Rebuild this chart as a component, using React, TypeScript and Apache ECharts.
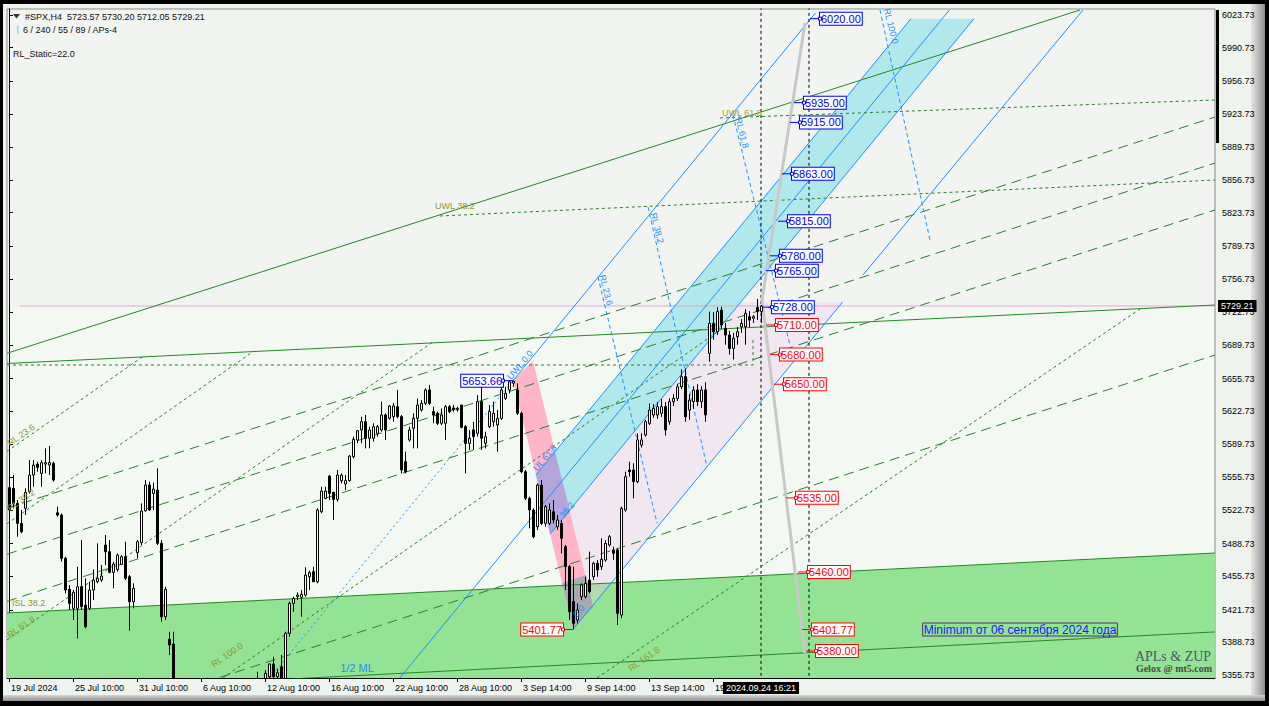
import React, { useEffect, useRef } from 'react';
import * as echarts from 'echarts';

const FONT = '"Liberation Sans", Arial, sans-serif';
const SERIF = '"Liberation Serif", "DejaVu Serif", serif';
const Y_MIN = 5352.69;
const Y_MAX = 6029.8;
const SLOTS = 302;

// price-scale tick labels (right axis)
const yTickLabels = ['5355.73','5388.73','5421.73','5455.73','5488.73','5522.73','5555.73','5589.73','5622.73','5655.73','5689.73','5722.73','5756.73','5789.73','5823.73','5856.73','5889.73','5923.73','5956.73','5990.73','6023.73'];

// time-scale tick labels (bar index -> text)
const xLabelIndex = [0, 16, 32, 48, 64, 80, 96, 112, 128, 144, 160, 176];
const xLabelText = ['19 Jul 2024','25 Jul 10:00','31 Jul 10:00','6 Aug 10:00','12 Aug 10:00','16 Aug 10:00','22 Aug 10:00','28 Aug 10:00','3 Sep 14:00','9 Sep 14:00','13 Sep 14:00','19 Sep 14:00'];

// H4 candles [open, high, low, close]
const candles = [
  [5545.3,5554.7,5515.9,5522.7],[5544.6,5558.1,5524.4,5529.4],[5529.4,5532.8,5495.7,5509.2],[5509.2,5522.7,5499.1,5500.8],
  [5524.4,5544.6,5517.6,5540.6],[5541.2,5573.3,5539.5,5558.1],[5558.1,5573.3,5546.3,5568.2],[5569.2,5571.6,5561.5,5565.9],
  [5559.8,5573.3,5546.3,5570.6],[5569.2,5585.1,5559.8,5570.6],[5568.2,5587.5,5558.1,5570.9],[5569.9,5571.6,5551.4,5553.0],
  [5520.0,5526.1,5515.9,5517.6],[5517.6,5519.3,5470.4,5473.8],[5473.8,5475.5,5438.3,5441.7],[5442.4,5446.8,5421.5,5428.2],
  [5423.2,5441.7,5411.4,5439.4],[5423.2,5465.3,5392.8,5445.1],[5445.1,5492.3,5421.5,5424.9],[5426.5,5453.5,5402.9,5404.6],
  [5423.2,5450.1,5421.5,5441.7],[5441.7,5462.6,5431.6,5451.8],[5450.1,5488.9,5448.5,5453.5],[5451.8,5467.0,5450.1,5455.9],
  [5487.3,5497.4,5467.0,5480.5],[5480.5,5492.3,5458.6,5459.6],[5459.6,5470.4,5443.4,5468.0],[5462.6,5478.8,5460.3,5477.1],
  [5467.7,5477.1,5467.0,5475.5],[5475.5,5490.6,5451.8,5453.5],[5455.2,5456.9,5400.6,5429.9],[5429.9,5448.5,5423.2,5443.4],
  [5479.5,5492.3,5473.8,5490.6],[5489.6,5529.4,5487.3,5521.7],[5522.0,5553.0,5521.0,5548.0],[5548.0,5551.4,5522.0,5522.7],
  [5539.5,5550.3,5522.7,5543.9],[5542.9,5564.9,5487.3,5489.0],[5489.0,5492.3,5409.7,5414.7],[5414.7,5445.1,5411.4,5442.4],
  [5391.8,5399.5,5375.9,5386.1],[5387.1,5399.5,5320.0,5330.0],[5330,5345,5300,5310],[5310,5325,5280,5290],
  [5290,5300,5250,5265],[5265,5280,5230,5245],[5245,5255,5190,5200],[5200,5215,5140,5150],
  [5150,5200,5120,5185],[5185,5215,5170,5190],[5190,5250,5185,5240],[5240,5270,5225,5255],
  [5255,5290,5240,5280],[5280,5300,5215,5225],[5225,5250,5200,5235],[5235,5275,5225,5265],
  [5265,5320,5260,5315],[5315,5335,5300,5325],[5325,5345,5310,5330],[5330,5345,5320,5338],
  [5338,5348,5325,5335],[5335,5350,5320,5340],[5340,5359.1,5330,5345],[5345,5352,5335,5348],
  [5348,5360.7,5340,5357.4],[5354.0,5367.5,5345,5366.8],[5366.8,5374.2,5345,5354.0],[5354,5362,5348,5358],
  [5364.1,5375.9,5338,5345],[5340,5399.5,5335,5397.9],[5397.9,5429.9,5394.5,5428.2],[5428.2,5435.0,5419.8,5433.3],
  [5435.0,5439.4,5431.6,5436.6],[5434.3,5441.7,5414.7,5437.3],[5436.6,5464.7,5435.0,5456.9],[5455.2,5461.3,5441.7,5459.3],
  [5460.3,5465.3,5450.1,5450.1],[5450.1,5524.4,5448.5,5522.7],[5521.0,5546.3,5519.3,5541.9],[5534.5,5546.3,5533.5,5541.9],
  [5557.1,5558.1,5532.8,5539.5],[5540.6,5541.2,5512.6,5533.5],[5533.5,5563.2,5531.1,5558.1],[5552.4,5559.8,5549.7,5558.1],
  [5549.0,5558.1,5542.9,5552.4],[5552.4,5578.3,5551.4,5577.3],[5576.7,5596.9,5575.0,5594.2],[5593.5,5603.7,5590.2,5603.0],
  [5603.7,5617.2,5590.2,5612.1],[5612.1,5618.9,5585.1,5595.3],[5595.3,5607.1,5585.1,5603.7],[5595.3,5610.5,5591.9,5607.1],
  [5600.3,5608.8,5597.0,5607.1],[5603.7,5632.4,5602.0,5618.9],[5618.9,5620.6,5593.6,5603.7],[5615.5,5629.0,5614.0,5628.0],
  [5617.2,5631.0,5612.0,5628.0],[5627.3,5644.2,5615.5,5617.2],[5617.2,5618.9,5559.8,5563.2],[5571.6,5581.8,5559.8,5561.5],
  [5593.6,5607.1,5591.9,5603.7],[5605.4,5620.6,5585.1,5615.5],[5615.5,5635.7,5585.1,5629.0],[5624.0,5634.0,5622.3,5630.7],
  [5630.7,5645.9,5629.0,5644.2],[5644.2,5649.3,5629.0,5630.7],[5622.3,5627.3,5610.5,5618.9],[5620.6,5622.3,5608.8,5610.5],
  [5610.5,5625.6,5608.8,5618.9],[5610.5,5629.0,5593.6,5627.3],[5627.3,5629.0,5620.6,5622.3],[5626.0,5629.0,5622.3,5624.3],
  [5624.3,5627.3,5622.3,5625.6],[5629.0,5629.0,5605.4,5606.4],[5607.1,5608.8,5559.8,5590.2],[5590.2,5603.7,5583.5,5595.3],
  [5603.7,5612.1,5583.5,5597.0],[5600.3,5639.1,5597.0,5632.4],[5632.4,5649.3,5583.5,5595.3],[5590.2,5602.0,5585.1,5597.0],
  [5607.1,5629.0,5605.4,5622.3],[5612.0,5632.4,5607.1,5620.5],[5608.8,5624.0,5581.8,5615.5],[5615.5,5650.0,5613.8,5644.2],
  [5635.7,5647.5,5634.0,5640.8],[5644.2,5653.0,5640.8,5652.6],[5651.0,5653.66,5647.5,5653.0],[5644.2,5650.9,5618.9,5620.6],
  [5620.6,5622.3,5559.8,5561.5],[5561.5,5563.2,5532.8,5534.5],[5534.5,5536.2,5504.2,5522.7],[5522.7,5524.4,5494.1,5495.7],
  [5505.8,5549.7,5502.5,5548.0],[5548.0,5553.1,5507.5,5509.2],[5509.2,5527.8,5505.8,5526.1],[5509.2,5529.5,5507.5,5522.7],
  [5521.0,5532.8,5509.2,5512.6],[5505.8,5517.6,5502.5,5512.6],[5509.2,5512.6,5478.9,5494.1],[5485.6,5487.3,5441.8,5465.4],
  [5465.4,5467.1,5411.4,5419.8],[5430.0,5465.4,5401.77,5408.0],[5411.4,5428.3,5408.0,5421.5],[5435.0,5448.5,5431.6,5446.8],
  [5435.0,5455.2,5433.3,5448.5],[5451.8,5480.6,5438.4,5440.1],[5455.2,5470.4,5451.9,5468.8],[5468.8,5472.1,5455.2,5462.0],
  [5465.4,5494.1,5462.0,5472.8],[5472.1,5492.4,5470.4,5489.0],[5487.3,5497.4,5485.6,5495.7],[5482.3,5485.6,5472.1,5478.9],
  [5482.3,5484.0,5406.4,5418.1],[5416.5,5526.1,5413.1,5524.4],[5522.7,5561.5,5521.0,5556.5],[5563.2,5571.6,5556.5,5561.5],
  [5563.2,5570.0,5534.5,5551.4],[5551.4,5600.3,5549.7,5593.6],[5588.5,5600.3,5586.0,5593.6],[5598.6,5614.0,5597.0,5612.1],
  [5610.4,5630.5,5608.8,5623.9],[5618.9,5630.0,5616.0,5625.6],[5618.9,5632.0,5615.0,5627.3],[5620.6,5635.0,5617.0,5627.3],
  [5627.3,5632.0,5598.0,5603.7],[5612.1,5636.0,5609.0,5632.4],[5632.4,5640.0,5628.0,5635.7],[5635.7,5650.0,5633.0,5647.5],
  [5647.5,5665.0,5645.0,5657.7],[5657.7,5666.0,5612.0,5617.2],[5623.9,5640.0,5614.0,5634.0],[5632.4,5648.0,5625.0,5644.2],
  [5644.2,5650.0,5628.0,5632.4],[5632.4,5648.0,5626.0,5644.2],[5644.2,5652.0,5612.0,5618.9],[5681.3,5723.5,5672.8,5711.6],
  [5711.6,5723.0,5695.0,5703.2],[5703.2,5728.0,5700.0,5723.5],[5725.1,5728.5,5706.0,5710.0],[5706.6,5712.0,5690.0,5699.8],
  [5699.8,5704.0,5680.0,5686.3],[5686.3,5702.0,5675.0,5696.5],[5698.1,5708.0,5690.0,5703.2],[5708.3,5716.0,5702.0,5711.6],
  [5708.3,5726.0,5690.0,5721.8],[5718.4,5724.0,5708.0,5715.0],[5716.7,5720.0,5712.0,5718.4],[5727.8,5736.3,5715.0,5723.5],
  [5723.57,5730.20,5712.05,5729.21],
];

const LAST_PRICE = 5729.21;
const LAST_TIME = '2024.09.24 16:21';

// price tags drawn on the projection (bar position, price)
const rightTagPrices = [6020.0, 5935.0, 5915.0, 5863.0, 5815.0, 5780.0, 5765.0, 5728.0, 5710.0, 5680.0, 5650.0, 5535.0, 5460.0, 5401.77, 5380.0];
const rightTagBars = [200.25, 196.25, 195.25, 193.25, 192.25, 190.25, 189.25, 188.25, 189.25, 190.25, 191.25, 194.25, 197.25, 198.25, 199.25];
const rightTagUp = [true, true, true, true, true, true, true, true, false, false, false, false, false, false, false];
const leftTagPrices = [5653.66, 5401.77];
const leftTagBars = [126, 141];
const leftTagUp = [true, false];

// drawn objects, in (bar index, price)
const greenSolid = [
  [[-0.5, 5681.3], [267.75, 6028.8]],
  [[-0.5, 5671.0], [301.5, 5730.2]],
  [[-0.5, 5418.5], [301.5, 5479.2]],
  [[60, 5349.6], [301.5, 5399.3]],
];
const greenDash = [
  [[-0.5, 5524.5], [301.5, 5920.5]],
  [[-0.5, 5478.0], [301.5, 5873.9]],
  [[-0.5, 5430.3], [301.5, 5826.4]],
  [[-0.5, 5283.5], [301.5, 5679.6]],
];
const greenDotted = [
  [[177.75, 5919.5], [301.5, 5937.7]],
  [[107.75, 5820.3], [301.5, 5856.7]],
  [[-0.5, 5669.5], [186, 5669.5], [186, 5694.8]],
  [[-0.5, 5582.1], [33.5, 5678.1]],
  [[-0.5, 5508.8], [61.25, 5683.7]],
  [[-0.5, 5391.2], [105.75, 5692.2]],
  [[53.5, 5352.7], [178.25, 5706.2]],
  [[147, 5352.7], [283.5, 5728.2]],
];
const blueSolid = [
  [[126, 5653.66], [201.6, 6025.7]],
  [[97.7, 5352.7], [235.1, 6028.8]],
  [[141, 5401.77], [208.4, 5733.2]],
  [[131.75, 5558.2], [225.5, 6020.0]],
  [[135.25, 5498.4], [241.25, 6020.0]],
  [[213.5, 5760.6], [268.5, 6028.8]],
];
const blueDotted = [
  [[65.25, 5352.7], [126, 5653.66]],
];
const blueDashed = [
  [[147.25, 5758.5], [162, 5509.6]],
  [[159.75, 5829.4], [174.5, 5566.2]],
  [[181, 5922.5], [195.25, 5689.7]],
  [[217.75, 6028.8], [230.25, 5796.0]],
];
const projection = [[199, 6015.6], [188.25, 5735.3], [199, 5378.0]];

const greenZone = [[-0.5, 5418.5], [301.5, 5479.2], [301.5, Y_MIN], [-0.5, Y_MIN]];
const topTint = [[-0.5, LAST_PRICE], [301.5, LAST_PRICE], [301.5, Y_MAX], [-0.5, Y_MAX]];
const forkTint = [[141, 5401.77], [208.4, 5733.2], [182.9, 5733.2], [135.25, 5498.4]];
const pinkStrip = [[126, 5654.3], [131, 5673.5], [146, 5424.6], [141, 5403.3]];
const cyanBand = [[131.75, 5558.2], [225.5, 6020.0], [241.25, 6020.0], [135.25, 5498.4]];
const overlapPurple = [[131.75, 5558.2], [136.5, 5581.4], [140.25, 5521.7], [135.25, 5498.4]];
const overlapGray = [[138.25, 5448.8], [144.25, 5456.9], [146, 5424.6], [141, 5403.3]];

const OLIVE = '#8f9a30';
const BLUE = '#1e90ff';
const annotations = [
  { x: 106.5, y: 5830.4, text: 'UWL 38.2', color: OLIVE, size: 9, align: 'left' },
  { x: 178.25, y: 5924.5, text: 'UWL 61.8', color: '#a3a322', size: 9, align: 'left' },
  { x: 0.75, y: 5428.6, text: 'ISL 38.2', color: OLIVE, size: 9, align: 'left' },
  { x: 3, y: 5598.6, text: 'RL 23.6', color: OLIVE, size: 9, rot: 35 },
  { x: 3, y: 5532.8, text: 'RL 38.2', color: OLIVE, size: 9, rot: 35 },
  { x: 3, y: 5404.3, text: 'RL 61.8', color: OLIVE, size: 9, rot: 35 },
  { x: 54.5, y: 5376.0, text: 'RL 100.0', color: OLIVE, size: 9, rot: 35 },
  { x: 158.75, y: 5371.9, text: 'RL 161.8', color: OLIVE, size: 9, rot: 35 },
  { x: 127.75, y: 5669.5, text: 'UWL 0.0', color: BLUE, size: 9, rot: 50 },
  { x: 87, y: 5362.8, text: '1/2 ML', color: BLUE, size: 11 },
  { x: 149.25, y: 5745.4, text: 'RL 23.6', color: BLUE, size: 9, rot: -76 },
  { x: 162, y: 5808.1, text: 'RL 38.2', color: BLUE, size: 9, rot: -76 },
  { x: 183.25, y: 5904.3, text: 'RL 61.8', color: BLUE, size: 9, rot: -76 },
  { x: 220.5, y: 6012.6, text: 'RL 100.0', color: BLUE, size: 9, rot: -76 },
  { x: 134, y: 5575.4, text: 'UL 61.8', color: BLUE, size: 9, rot: 50 },
  { x: 139.5, y: 5522.8, text: '38.2', color: BLUE, size: 9, rot: 50 },
  { x: 142.5, y: 5420.5, text: '0.0', color: BLUE, size: 9, rot: 50 },
  { x: 252.75, y: 5401.77, text: 'Minimum от 06 сентября 2024 года', color: '#1a1aff', size: 12, border: '#5a2a6a', pad: [1, 1, 0, 1] },
  { x: 188, y: Y_MIN, dy: 10, text: LAST_TIME, color: '#ffffff', size: 9, bg: '#000000', pad: [2, 3, 1, 3] },
  { x: 301.5, y: LAST_PRICE, dx: 3, text: LAST_PRICE.toFixed(2), color: '#ffffff', size: 9, bg: '#000000', align: 'left', pad: [2, 3, 1, 3] },
];

function lineSeries(pts: number[][], color: string, type: any, z: number, width = 1) {
  return {
    type: 'line', xAxisIndex: 1, yAxisIndex: 0, data: pts, symbol: 'none', silent: true, z,
    clip: true, animation: false, lineStyle: { color, width, type },
  };
}

function polySeries(pts: number[][], fill: string, z: number) {
  return {
    type: 'custom', xAxisIndex: 1, yAxisIndex: 0, silent: true, z, clip: true, animation: false,
    data: [pts[0]],
    renderItem: (_p: any, api: any) => ({
      type: 'polygon',
      shape: { points: pts.map((p) => api.coord(p)) },
      style: { fill },
    }),
  };
}

function buildOption() {
  const yVals = yTickLabels.map(Number);
  const labelMap = new Map<number, string>();
  xLabelIndex.forEach((ix, k) => labelMap.set(ix, xLabelText[k]));
  const cats = Array.from({ length: SLOTS }, (_, i) => String(i));
  const showIdx = (i: number) => labelMap.has(i);

  const tags = [
    ...rightTagPrices.map((p, k) => ({ x: rightTagBars[k], price: p, up: rightTagUp[k], side: 1 })),
    ...leftTagPrices.map((p, k) => ({ x: leftTagBars[k], price: p, up: leftTagUp[k], side: -1 })),
  ];

  const series: any[] = [
    polySeries(topTint, 'rgba(236,196,236,0.07)', 1),
    polySeries(greenZone, '#94e294', 1),
    polySeries(forkTint, 'rgba(238,200,238,0.35)', 1),
    polySeries(pinkStrip, '#ffb4c8', 1),
    polySeries(cyanBand, '#b0e8ec', 1),
    polySeries(overlapPurple, '#b4a6da', 1),
    polySeries(overlapGray, '#a9a9b3', 1),
    lineSeries([[2.75, LAST_PRICE], [301.5, LAST_PRICE]], '#e2a6d2', 'solid', 2),
    ...greenDash.map((l) => lineSeries(l, '#2a7f2a', [10, 6], 2)),
    ...greenDotted.map((l) => lineSeries(l, '#2a7f2a', [3, 3], 2)),
    ...greenSolid.map((l) => lineSeries(l, '#238a23', 'solid', 2)),
    ...blueSolid.map((l) => lineSeries(l, BLUE, 'solid', 2)),
    ...blueDotted.map((l) => lineSeries(l, BLUE, [2, 3], 2)),
    ...blueDashed.map((l) => lineSeries(l, BLUE, [4, 3], 2)),
    lineSeries([[188, Y_MIN - 10], [188, Y_MAX + 10]], '#000000', [3, 3], 3),
    lineSeries([[200, Y_MIN - 10], [200, Y_MAX + 10]], '#000000', [3, 3], 3),
    lineSeries(projection, '#c8c8c8', 'solid', 3, 3),
    {
      type: 'custom', xAxisIndex: 0, yAxisIndex: 0, z: 5, silent: true, clip: true, animation: false,
      data: candles.map((c, i) => [i, c[0], c[1], c[2], c[3]]),
      encode: { x: 0, y: [1, 2, 3, 4] },
      renderItem: (_params: any, api: any) => {
        const i = api.value(0);
        const o = api.value(1), h = api.value(2), l = api.value(3), c = api.value(4);
        const pO = api.coord([i, o]);
        const pC = api.coord([i, c]);
        const pH = api.coord([i, h]);
        const pL = api.coord([i, l]);
        const x = Math.round(pO[0]) + 0.5;
        const top = Math.min(pO[1], pC[1]);
        const bot = Math.max(pO[1], pC[1]);
        const bull = c >= o;
        return {
          type: 'group',
          children: [
            { type: 'line', shape: { x1: x, y1: pH[1], x2: x, y2: pL[1] }, style: { stroke: '#000000', lineWidth: 1 } },
            { type: 'rect', shape: { x: x - 1, y: top, width: 2, height: Math.max(bot - top, 0.6) }, style: { fill: bull ? '#ffffff' : '#000000', stroke: '#000000', lineWidth: 1 } },
          ],
        };
      },
    },
    {
      type: 'custom', xAxisIndex: 1, yAxisIndex: 0, silent: true, z: 8, clip: false, animation: false,
      data: tags.map((t) => [t.x, t.price]),
      renderItem: (params: any, api: any) => {
        const t = tags[params.dataIndex];
        const [px, py] = api.coord([t.x, t.price]);
        const col = t.up ? '#0000ff' : '#ff0000';
        const s = t.side;
        return {
          type: 'group',
          children: [
            { type: 'line', shape: { x1: px, y1: py, x2: px + s * 10, y2: py }, style: { stroke: col, lineWidth: 1 } },
            {
              type: 'text', x: px + s * 10, y: py,
              style: {
                text: t.price.toFixed(2), fill: col, font: `11px ${FONT}`,
                align: s > 0 ? 'left' : 'right', verticalAlign: 'middle',
                backgroundColor: '#ffffff', borderColor: col, borderWidth: 1, padding: [1, 1, 0, 1],
              },
            },
            { type: 'rect', shape: { x: px + s * 10 - 1.5, y: py - 1.5, width: 3, height: 3 }, style: { fill: '#ffffff', stroke: col, lineWidth: 1 } },
          ],
        };
      },
    },
    {
      type: 'custom', xAxisIndex: 1, yAxisIndex: 0, silent: true, z: 9, clip: false, animation: false,
      data: annotations.map((a) => [a.x, a.y]),
      renderItem: (params: any, api: any) => {
        const a: any = annotations[params.dataIndex];
        const [px, py] = api.coord([a.x, a.y]);
        const style: any = {
          text: a.text, fill: a.color, font: `${a.size}px ${FONT}`,
          align: a.align || 'center', verticalAlign: 'middle',
        };
        if (a.bg) style.backgroundColor = a.bg;
        if (a.border) { style.borderColor = a.border; style.borderWidth = 1; }
        if (a.pad) style.padding = a.pad;
        return {
          type: 'text', x: px + (a.dx || 0), y: py + (a.dy || 0),
          rotation: ((a.rot || 0) * Math.PI) / 180, style,
        };
      },
    },
    {
      type: 'custom', xAxisIndex: 1, yAxisIndex: 0, silent: true, z: 9, clip: false, animation: false,
      data: [[301.5, 6028.8]],
      renderItem: (_p: any, api: any) => {
        const a = api.coord([301.5, 6028.8]);
        const b = api.coord([301.5, 5894.2]);
        return { type: 'rect', shape: { x: a[0] + 1, y: a[1], width: 3, height: b[1] - a[1] }, style: { fill: '#000000' } };
      },
    },
  ];

  return {
    animation: false,
    backgroundColor: 'transparent',
    textStyle: { fontFamily: FONT },
    grid: { left: 7, right: 54, top: 9, bottom: 28, show: true, backgroundColor: '#f3f8f3', borderColor: '#8a8a8a', borderWidth: 1 },
    xAxis: [
      {
        type: 'category', data: cats, boundaryGap: true, gridIndex: 0,
        axisLine: { show: true, lineStyle: { color: '#000000', width: 1 } },
        axisTick: { show: true, alignWithLabel: true, interval: showIdx, length: 4, lineStyle: { color: '#000000' } },
        axisLabel: {
          interval: showIdx, formatter: (_v: any, i: number) => labelMap.get(i) || '',
          align: 'left', color: '#000000', fontSize: 9, fontFamily: FONT, margin: 5, padding: [0, 0, 0, 2],
        },
        splitLine: { show: false },
      },
      { type: 'value', gridIndex: 0, min: -0.5, max: SLOTS - 0.5, show: false },
    ],
    yAxis: [
      {
        type: 'value', position: 'right', min: Y_MIN, max: Y_MAX, scale: true,
        axisLine: { show: true, lineStyle: { color: '#000000', width: 1 } },
        axisTick: { show: true, length: 4, customValues: yVals, lineStyle: { color: '#000000' } },
        axisLabel: { customValues: yVals, formatter: (v: number) => v.toFixed(2), color: '#000000', fontSize: 9, fontFamily: FONT, margin: 7 },
        splitLine: { show: false },
      },
    ],
    graphic: [
      { type: 'polygon', shape: { points: [[13, 14], [20, 14], [16.5, 18.5]] }, style: { fill: '#333333' }, z: 20 },
      { type: 'text', x: 25, y: 17, style: { text: '#SPX,H4  5723.57 5730.20 5712.05 5729.21', fill: '#111111', font: `9px ${FONT}`, verticalAlign: 'middle' }, z: 20 },
      { type: 'rect', shape: { x: 17, y: 26, width: 1.5, height: 8 }, style: { fill: '#8fd8ef' }, z: 20 },
      { type: 'text', x: 23, y: 30, style: { text: '6 / 240 / 55 / 89 / APs-4', fill: '#111111', font: `9px ${FONT}`, verticalAlign: 'middle' }, z: 20 },
      { type: 'text', x: 13, y: 54, style: { text: 'RL_Static=22.0', fill: '#111111', font: `9px ${FONT}`, verticalAlign: 'middle' }, z: 20 },
      { type: 'text', x: 1173, y: 656, style: { text: 'APLs & ZUP', fill: '#4e5868', font: `14px ${SERIF}`, align: 'center', verticalAlign: 'middle' }, z: 20 },
      { type: 'text', x: 1174, y: 668, style: { text: 'Gelox @ mt5.com', fill: '#4a4a4a', font: `bold 10px ${SERIF}`, align: 'center', verticalAlign: 'middle' }, z: 20 },
    ],
    series,
  };
}

export default function App() {
  const ref = useRef<HTMLDivElement>(null);
  useEffect(() => {
    if (!ref.current) return;
    const chart = echarts.init(ref.current, null, { renderer: 'svg' });
    chart.setOption(buildOption() as any);
    return () => chart.dispose();
  }, []);
  return (
    <div style={{ position: 'fixed', left: 0, top: 0, width: 1269, height: 706, background: '#000000', overflow: 'hidden' }}>
      <div style={{ position: 'absolute', left: 3, top: 4, width: 1262, height: 697, background: '#eef3ee' }} />
      <div style={{ position: 'absolute', left: 1251, top: 4, width: 14, height: 697, background: 'linear-gradient(to right, #e6e6e6, #c4c4c4 40%, #a2a2a2 80%, #8a8a8a)' }} />
      <div style={{ position: 'absolute', left: 3, top: 695, width: 1262, height: 6, background: 'linear-gradient(to bottom, #d6d6d6, #acacac 60%, #8e8e8e)' }} />
      <div ref={ref} style={{ position: 'absolute', left: 0, top: 0, width: 1269, height: 706 }} />
    </div>
  );
}
